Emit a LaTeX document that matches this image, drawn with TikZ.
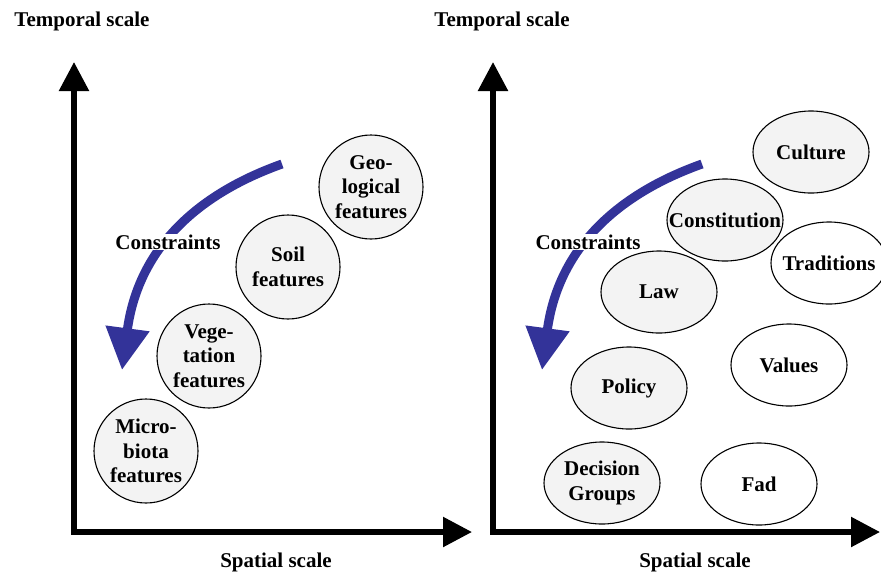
\documentclass[tikz,border=0pt]{standalone}
\usepackage{fontspec}
\setmainfont{Liberation Serif}
\usepackage{xcolor}
\usepackage{tikz}
\usetikzlibrary{arrows.meta, shapes.geometric, positioning}
\definecolor{paper}{HTML}{F3F3F3}
\definecolor{flow}{HTML}{333399}

\begin{document}
\begin{tikzpicture}[x=1pt, y=-1pt,
	every node/.style={font=\fontsize{21}{24.5}\selectfont\bfseries, text=black},
	axis/.style={line width=5.5pt, line join=miter, {Triangle[length=29pt,width=29pt]}-{Triangle[length=29pt,width=29pt]}},
	feat/.style={circle, draw, line width=1.1pt, fill=paper, minimum size=104pt, inner sep=0pt, align=center},
	grp/.style={ellipse, draw, line width=1.1pt, fill=paper, minimum width=116pt, minimum height=82pt, inner sep=0pt, align=center},
	trait/.style={grp, fill=white},
	constraint/.style={draw=flow, line width=9pt, -{Triangle[length=42pt,width=42pt]}}]
			\useasboundingbox (0,0) rectangle (881,571);
			
			%% axes of both panels
			\coordinate (o1) at (74,532);
			\coordinate (o2) at (493,532);
			\draw[axis] (74,62) -- (o1) -- (472,532);
			\draw[axis] (493,62) -- (o2) -- (880,532);
			
			\node (tl) at (82,21) {Temporal scale};
			\node (tr) at (502,21) {Temporal scale};
			\node[below=17pt of o1, xshift=202pt] (sl) {Spatial scale};
			\node[below=17pt of o2, xshift=202pt] (sr) {Spatial scale};
			
			%% constraints arrows, label sits on top of the stroke
			\foreach \dx/\nm in {0/l, 420/r} {
				\draw[constraint] (282+\dx,164) .. controls (195+\dx,195) and (138+\dx,250) .. (122+\dx,370);
				\node[fill=white, inner sep=1pt] (con\nm) at (168+\dx,242) {Constraints};
			}
			
			%% biophysical features
			\node[feat] (geo) at (371,187) {Geo-\\logical\\features};
			\node[feat] (soil) at (288,267) {Soil\\features};
			\node[feat] (veg) at (209,356) {Vege-\\tation\\features};
			\node[feat] (micro) at (146,451) {Micro-\\biota\\features};
			
			%% institutions
			\node[grp] (cult) at (811,152) {Culture};
			\node[grp] (const) at (725,220) {\makebox[0pt]{Constitution}};
			\node[grp] (law) at (659,292) {Law};
			\node[grp] (pol) at (629,388) {Policy};
			\node[grp] (dec) at (602,483) {Decision\\Groups};
			
			\node[trait] (trad) at (829,263) {\makebox[0pt]{Traditions}};
			\node[trait] (val) at (789,365) {Values};
			\node[trait] (fad) at (759,484) {Fad};
			
\end{tikzpicture}
\end{document}
